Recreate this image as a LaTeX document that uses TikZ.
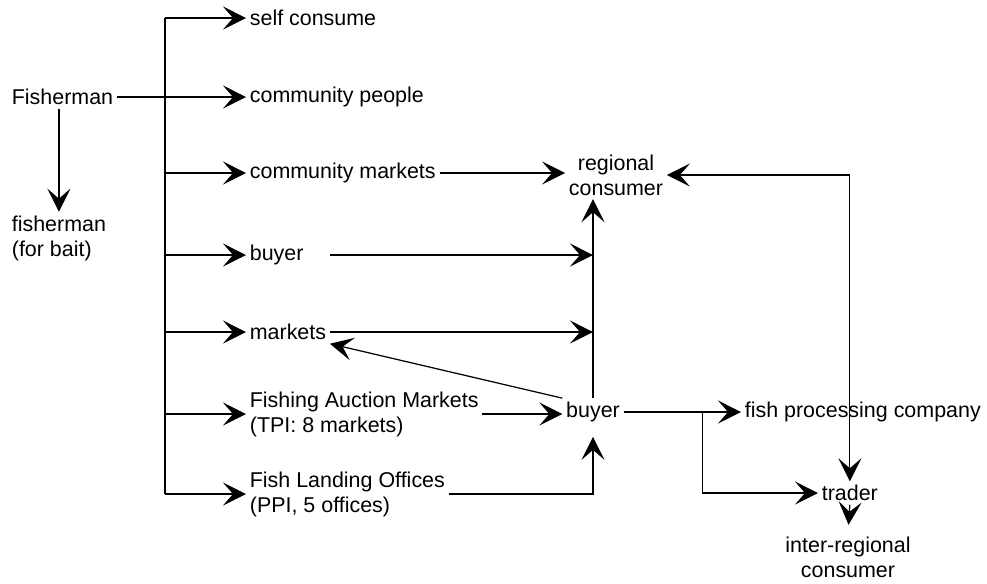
\documentclass[tikz,border=0pt]{standalone}
\usepackage{fontspec}
\setmainfont{Liberation Sans}
\usetikzlibrary{arrows.meta, positioning}

\begin{document}
\begin{tikzpicture}[x=0.02cm, y=-0.02cm,
    every node/.style={font=\fontsize{12.2}{14.2}\selectfont, inner sep=2pt},
    lbl/.style={anchor=west, align=left},
    flow/.style={-{Stealth[length=0.46cm, width=0.46cm, inset=0.2cm]}, line width=0.7pt},
    twoway/.style={{Stealth[length=0.46cm, width=0.46cm, inset=0.2cm]}-{Stealth[length=0.46cm, width=0.46cm, inset=0.2cm]}, line width=0.7pt}]
    \useasboundingbox (0,0) rectangle (987,583);

    % Fisherman and the bait branch
    \node[lbl] (fisher) at (8,97) {Fisherman};
    \node[lbl] (bait) at (8,238) {fisherman\\(for bait)};
    \draw[flow] (bait.north |- fisher.south) -- (bait.north);

    % First-level destinations
    \node[lbl] (self) at (246,18) {self consume};
    \node[lbl] (people) at (246,97) {community people};
    \node[lbl] (cmkt) at (246,173) {community markets};
    \node[lbl] (buyer1) at (246,255) {buyer};
    \node[lbl] (mkt) at (246,332) {markets};
    \node[lbl] (auction) at (246,414) {Fishing Auction Markets\\(TPI: 8 markets)};
    \node[lbl] (landing) at (246,494) {Fish Landing Offices\\(PPI, 5 offices)};

    % Bus line and its branches
    \coordinate (bus) at (165,0);
    \draw[line width=1.3pt] (bus |- self.west) -- (bus |- landing.west);
    \draw[flow] (fisher.east) -- (fisher.east -| people.west);
    \foreach \n in {self, cmkt, buyer1, mkt, auction, landing}
        \draw[flow] (\n.west -| bus) -- (\n.west);

    % Buyers, processors and consumers
    \node[align=center] (regional) at (616,175) {regional\\consumer};
    \node (buyer2) at (593,412) {buyer};
    \node[lbl] (fpc) at (741,412) {fish processing company};
    \node[lbl] (trader) at (818,493) {trader};
    \node[align=center] (inter) at (848,557) {inter-regional\\consumer};

    \draw[flow] (cmkt.east) -- (cmkt.east -| regional.west);
    \draw[flow, shorten <=0.45cm] (buyer1.east) -- (buyer1.east -| buyer2.north);
    \draw[flow] (mkt.east) -- (mkt.east -| buyer2.north);
    \draw[flow] (buyer2.north) -- (buyer2.north |- regional.south);
    \draw[flow] (buyer2.north west) -- (mkt.south east);
    \draw[flow] (auction.east) -- (auction.east -| buyer2.west);
    \draw[flow, shorten >=0.22cm] (landing.east) -| (buyer2.south);
    \draw[flow] (buyer2.east) -- (fpc.west);
    \path (buyer2.east) -- (fpc.west) coordinate[pos=0.67] (split);
    \draw[flow] (split) |- (trader.west);
    \draw[twoway] (regional.east) -| (trader.north);
    \draw[flow, shorten >=0.16cm] (trader.south) -- (inter.north);
\end{tikzpicture}
\end{document}
